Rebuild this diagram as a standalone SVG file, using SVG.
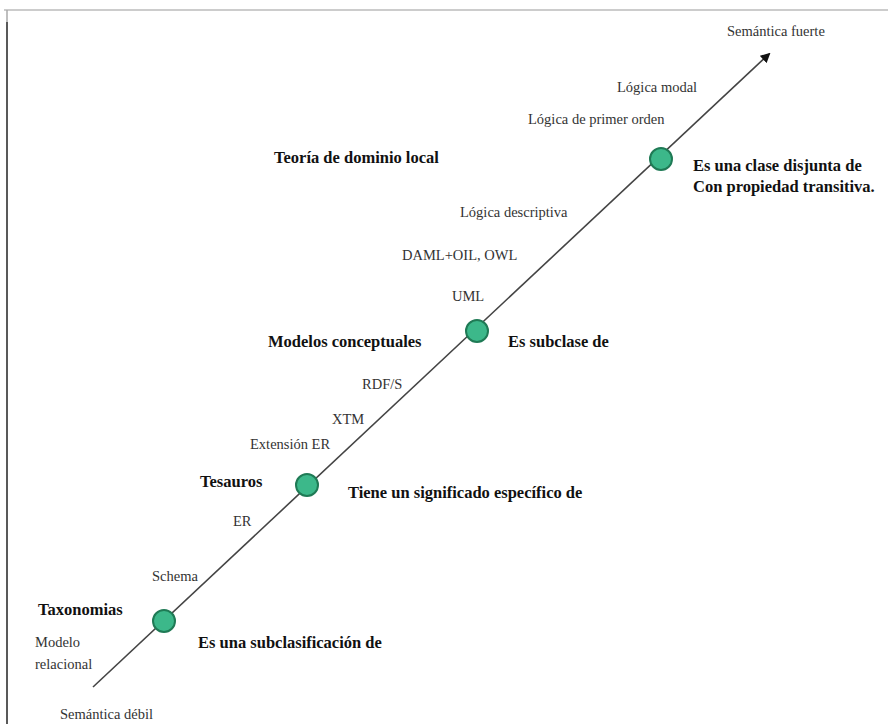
<svg xmlns="http://www.w3.org/2000/svg" width="888" height="724" viewBox="0 0 888 724">
<style>
.r{font-family:"Liberation Serif","Times New Roman",serif;font-size:14.5px;fill:#333}
.b{font-family:"Liberation Serif","Times New Roman",serif;font-size:16.5px;font-weight:bold;fill:#111}
.n{fill:#3cb88a;stroke:#1f7a55;stroke-width:2}
</style>
<defs>
<marker id="ah" markerWidth="10" markerHeight="10" refX="8" refY="5" orient="auto" markerUnits="userSpaceOnUse">
<path d="M0,0 L10,5 L0,10 Z" fill="#111"/>
</marker>
</defs>
<rect width="888" height="724" fill="#fff"/>
<line x1="4" y1="10" x2="888" y2="10" stroke="#bbb" stroke-width="1.5"/>
<line x1="7" y1="10" x2="7" y2="22" stroke="#aaa" stroke-width="1.5"/>
<line x1="7" y1="22" x2="7" y2="724" stroke="#222" stroke-width="1.5"/>
<g id="connectors">
<line x1="93" y1="687" x2="769" y2="54" stroke="#444" stroke-width="1.6" marker-end="url(#ah)"/>
</g>
<g id="n1"><circle class="n" cx="164" cy="621" r="11"/></g>
<g id="n2"><circle class="n" cx="307" cy="485" r="11"/></g>
<g id="n3"><circle class="n" cx="477" cy="331" r="11"/></g>
<g id="n4"><circle class="n" cx="661" cy="159" r="11"/></g>
<g id="labels">
<text class="r" x="727" y="36">Semántica fuerte</text>
<text class="r" x="617" y="92">Lógica modal</text>
<text class="r" x="528" y="124">Lógica de primer orden</text>
<text class="b" x="274" y="163">Teoría de dominio local</text>
<text class="b" x="693" y="171">Es una clase disjunta de</text>
<text class="b" x="693" y="192">Con propiedad transitiva.</text>
<text class="r" x="460" y="217">Lógica descriptiva</text>
<text class="r" x="402" y="260">DAML+OIL, OWL</text>
<text class="r" x="452" y="301">UML</text>
<text class="b" x="268" y="347">Modelos conceptuales</text>
<text class="b" x="508" y="347">Es subclase de</text>
<text class="r" x="362" y="389">RDF/S</text>
<text class="r" x="332" y="424">XTM</text>
<text class="r" x="250" y="449">Extensión ER</text>
<text class="b" x="200" y="487">Tesauros</text>
<text class="b" x="348" y="498">Tiene un significado específico de</text>
<text class="r" x="233" y="526">ER</text>
<text class="r" x="152" y="581">Schema</text>
<text class="b" x="38" y="615">Taxonomias</text>
<text class="r" x="35" y="647">Modelo</text>
<text class="r" x="35" y="669">relacional</text>
<text class="b" x="198" y="648">Es una subclasificación de</text>
<text class="r" x="60" y="719">Semántica débil</text>
</g>
</svg>
